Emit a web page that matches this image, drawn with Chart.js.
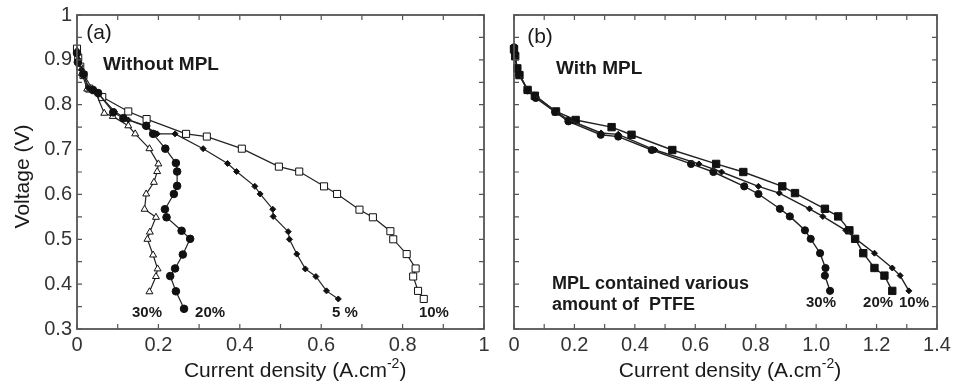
<!DOCTYPE html>
<html>
<head>
<meta charset="utf-8">
<script src="https://cdn.jsdelivr.net/npm/chart.js@4/dist/chart.umd.min.js"></script>
<style>
  body { margin: 0; background: #fff; }
  #wrap { position: relative; width: 954px; height: 386px; }
  canvas { position: absolute; top: 0; }
</style>
</head>
<body>
<div id="wrap">
  <canvas id="chartA" width="490" height="386" style="left:0"></canvas>
  <canvas id="chartB" width="464" height="386" style="left:490px"></canvas>
</div>
<script>
// (a) Without MPL : [current density, voltage]
const noMpl10 = [[0, 0.925], [0.003, 0.905], [0.008, 0.885], [0.016, 0.866], [0.03, 0.836], [0.062, 0.817], [0.126, 0.785], [0.171, 0.768], [0.268, 0.735], [0.319, 0.729], [0.405, 0.702], [0.496, 0.662], [0.546, 0.651], [0.607, 0.618], [0.639, 0.601], [0.694, 0.566], [0.727, 0.549], [0.770, 0.518], [0.777, 0.500], [0.810, 0.467], [0.832, 0.435], [0.826, 0.417], [0.838, 0.385], [0.852, 0.367]];
const noMpl5 = [[0, 0.92], [0.004, 0.90], [0.011, 0.878], [0.028, 0.837], [0.048, 0.829], [0.092, 0.785], [0.126, 0.766], [0.171, 0.751], [0.197, 0.735], [0.241, 0.735], [0.310, 0.702], [0.370, 0.669], [0.392, 0.651], [0.437, 0.618], [0.450, 0.601], [0.481, 0.567], [0.482, 0.551], [0.519, 0.517], [0.522, 0.500], [0.540, 0.467], [0.561, 0.434], [0.587, 0.417], [0.613, 0.385], [0.642, 0.367]];
const noMpl20 = [[0, 0.915], [0.002, 0.895], [0.016, 0.868], [0.039, 0.833], [0.052, 0.826], [0.089, 0.783], [0.114, 0.770], [0.170, 0.753], [0.187, 0.735], [0.217, 0.702], [0.243, 0.670], [0.246, 0.651], [0.246, 0.619], [0.238, 0.601], [0.216, 0.567], [0.220, 0.549], [0.257, 0.519], [0.278, 0.501], [0.260, 0.466], [0.241, 0.435], [0.229, 0.418], [0.243, 0.384], [0.263, 0.345]];
const noMpl30 = [[0, 0.92], [0.006, 0.89], [0.012, 0.870], [0.025, 0.835], [0.045, 0.829], [0.067, 0.781], [0.088, 0.774], [0.126, 0.753], [0.143, 0.735], [0.178, 0.702], [0.200, 0.668], [0.197, 0.651], [0.189, 0.627], [0.170, 0.601], [0.166, 0.567], [0.194, 0.549], [0.179, 0.516], [0.173, 0.500], [0.187, 0.465], [0.198, 0.434], [0.194, 0.417], [0.178, 0.383]];

// (b) With MPL
const mpl10 = [[0, 0.926], [0.003, 0.912], [0.009, 0.883], [0.017, 0.869], [0.045, 0.833], [0.067, 0.822], [0.136, 0.786], [0.178, 0.767], [0.288, 0.737], [0.345, 0.734], [0.467, 0.699], [0.612, 0.668], [0.687, 0.650], [0.809, 0.618], [0.878, 0.603], [0.978, 0.568], [1.022, 0.551], [1.098, 0.520], [1.131, 0.501], [1.193, 0.469], [1.252, 0.436], [1.278, 0.419], [1.307, 0.385]];
const mpl20 = [[0, 0.924], [0.004, 0.908], [0.011, 0.881], [0.018, 0.866], [0.045, 0.833], [0.069, 0.820], [0.139, 0.785], [0.204, 0.766], [0.323, 0.750], [0.389, 0.733], [0.524, 0.699], [0.669, 0.668], [0.759, 0.650], [0.888, 0.618], [0.930, 0.603], [1.029, 0.568], [1.073, 0.551], [1.110, 0.520], [1.129, 0.501], [1.156, 0.469], [1.193, 0.436], [1.226, 0.419], [1.252, 0.385]];
const mpl30 = [[0, 0.928], [0.002, 0.915], [0.010, 0.880], [0.017, 0.867], [0.045, 0.832], [0.072, 0.815], [0.136, 0.784], [0.180, 0.763], [0.287, 0.733], [0.345, 0.729], [0.456, 0.699], [0.586, 0.668], [0.660, 0.650], [0.762, 0.618], [0.809, 0.601], [0.880, 0.568], [0.913, 0.551], [0.963, 0.520], [0.982, 0.501], [1.013, 0.469], [1.031, 0.436], [1.029, 0.419], [1.046, 0.385]];

const FONT = '"Liberation Sans", Arial, sans-serif';
const INK = "#1a1a1a";

const toXY = arr => arr.map(p => ({ x: p[0], y: p[1] }));

function series(arr, style, radius, open, order, width) {
  return {
    data: toXY(arr),
    order,
    showLine: true,
    clip: false,
    borderColor: "#222",
    borderWidth: width || 1.2,
    pointStyle: style,
    pointRadius: radius,
    pointBorderWidth: 1,
    pointBorderColor: "#111",
    pointBackgroundColor: open ? "#fff" : "#111",
  };
}

// frame, inward ticks, titles and labels on the plot
function boxPlugin(notes, titleX, withYTitle) {
  return {
    id: "box",
    afterDraw(chart) {
      const { ctx, chartArea: a, scales: { x, y } } = chart;
      ctx.save();
      ctx.strokeStyle = "#555";
      ctx.lineWidth = 1.2;
      ctx.beginPath();
      x.ticks.forEach(t => {
        const p = x.getPixelForValue(t.value);
        ctx.moveTo(p, a.bottom); ctx.lineTo(p, a.bottom - 5);
        ctx.moveTo(p, a.top); ctx.lineTo(p, a.top + 5);
      });
      y.ticks.forEach(t => {
        const p = y.getPixelForValue(t.value);
        ctx.moveTo(a.left, p); ctx.lineTo(a.left + 5, p);
        ctx.moveTo(a.right, p); ctx.lineTo(a.right - 5, p);
      });
      ctx.stroke();
      ctx.lineWidth = 1.8;
      ctx.strokeRect(a.left, a.top, a.right - a.left, a.bottom - a.top);

      ctx.fillStyle = INK;
      ctx.textBaseline = "middle";
      notes.forEach(n => {
        ctx.font = n.font;
        ctx.textAlign = n.align;
        ctx.fillText(n.text, x.getPixelForValue(n.x), y.getPixelForValue(n.y));
      });

      // x title with superscript
      const big = "21px " + FONT, small = "14px " + FONT;
      const t1 = "Current density (A.cm", t2 = "-2", t3 = ")";
      ctx.font = big; const w1 = ctx.measureText(t1).width, w3 = ctx.measureText(t3).width;
      ctx.font = small; const w2 = ctx.measureText(t2).width;
      let cx = x.getPixelForValue(titleX) - (w1 + w2 + w3) / 2;
      const cy = a.bottom + 42;
      ctx.textAlign = "left";
      ctx.font = big; ctx.fillText(t1, cx, cy);
      ctx.font = small; ctx.fillText(t2, cx + w1, cy - 7);
      ctx.font = big; ctx.fillText(t3, cx + w1 + w2, cy);

      if (withYTitle) {
        ctx.translate(23, y.getPixelForValue(0.64));
        ctx.rotate(-Math.PI / 2);
        ctx.textAlign = "center";
        ctx.font = big;
        ctx.fillText("Voltage (V)", 0, 0);
      }
      ctx.restore();
    },
  };
}

function yLabel(v) {
  const k = Math.round(v * 100);
  if (k % 10 !== 0) return "";
  return k === 100 ? "1" : (k / 100).toString();
}

function makeChart(id, datasets, xMax, xLabel, yLabels, yWidth, rightPad, plugin) {
  return new Chart(document.getElementById(id), {
    type: "scatter",
    data: { datasets },
    options: {
      responsive: false,
      devicePixelRatio: 1,
      animation: false,
      layout: { padding: { top: 15, right: rightPad, left: 0, bottom: 0 } },
      plugins: { legend: { display: false }, tooltip: { enabled: false } },
      scales: {
        x: {
          type: "linear", min: 0, max: xMax,
          grid: { display: false, drawTicks: false },
          border: { display: false },
          ticks: {
            stepSize: 0.1, autoSkip: false, maxRotation: 0, padding: 4,
            color: "#333", font: { family: FONT, size: 20 },
            callback: xLabel,
          },
          afterFit(s) { s.height = 57; s.paddingLeft = 0; s.paddingRight = 0; },
        },
        y: {
          type: "linear", min: 0.3, max: 1,
          grid: { display: false, drawTicks: false },
          border: { display: false },
          ticks: {
            display: yLabels, stepSize: 0.05, autoSkip: false, padding: 5,
            color: "#333", font: { family: FONT, size: 20 },
            callback: yLabel,
          },
          afterFit(s) { s.width = yWidth; s.paddingTop = 0; s.paddingBottom = 0; },
        },
      },
    },
    plugins: [plugin],
  });
}

const bold15 = "bold 15px " + FONT;
const bold18 = "bold 18px " + FONT;
const bold19 = "bold 19px " + FONT;
const norm20 = "21px " + FONT;

const notesA = [
  { text: "(a)", x: 0.054, y: 0.960, font: norm20, align: "center" },
  { text: "Without MPL", x: 0.064, y: 0.889, font: bold19, align: "left" },
  { text: "30%", x: 0.172, y: 0.336, font: bold15, align: "center" },
  { text: "20%", x: 0.327, y: 0.336, font: bold15, align: "center" },
  { text: "5 %", x: 0.658, y: 0.336, font: bold15, align: "center" },
  { text: "10%", x: 0.877, y: 0.336, font: bold15, align: "center" },
];
const notesB = [
  { text: "(b)", x: 0.086, y: 0.951, font: norm20, align: "center" },
  { text: "With MPL", x: 0.139, y: 0.880, font: bold19, align: "left" },
  { text: "MPL contained various", x: 0.126, y: 0.401, font: bold18, align: "left" },
  { text: "amount of  PTFE", x: 0.126, y: 0.354, font: bold18, align: "left" },
  { text: "30%", x: 1.016, y: 0.359, font: bold15, align: "center" },
  { text: "20%", x: 1.205, y: 0.359, font: bold15, align: "center" },
  { text: "10%", x: 1.324, y: 0.359, font: bold15, align: "center" },
];

makeChart("chartA", [
  series(noMpl10, "rect", 5, true, 3),
  series(noMpl5, "rectRot", 3, false, 1),
  series(noMpl20, "circle", 3.8, false, 0),
  series(noMpl30, "triangle", 4, true, 2),
], 1, v => {
  const k = Math.round(v * 10);
  if (k % 2 !== 0) return "";
  return k === 0 ? "0" : k === 10 ? "1" : (k / 10).toString();
}, true, 77, 5, boxPlugin(notesA, 0.536, true));

makeChart("chartB", [
  series(mpl10, "rectRot", 3, false, 0, 1.4),
  series(mpl20, "rect", 5.2, false, 1, 1.4),
  series(mpl30, "circle", 3.6, false, 2, 1.4),
], 1.4, v => {
  const k = Math.round(v * 10);
  if (k % 2 !== 0) return "";
  return k === 0 ? "0" : (k / 10).toFixed(1);
}, false, 24, 17, boxPlugin(notesB, 0.715, false));
</script>
</body>
</html>
